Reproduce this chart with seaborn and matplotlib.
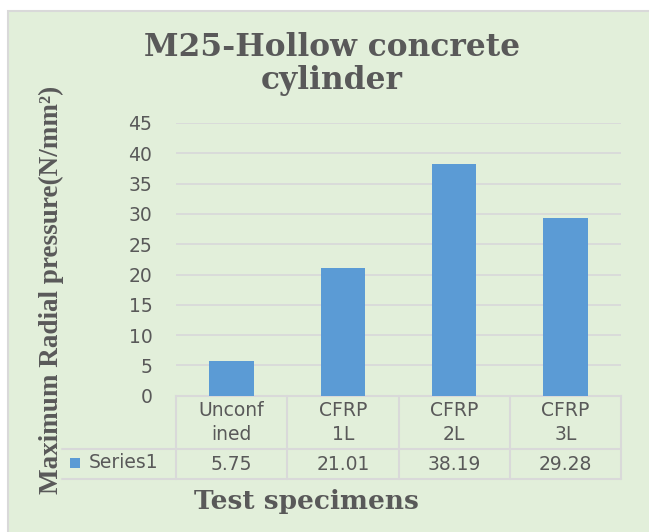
import matplotlib
matplotlib.use("Agg")
import matplotlib.pyplot as plt
import matplotlib.patches as mpatches
import matplotlib.transforms as mtransforms
import seaborn as sns

# === Chart data ===
categories = ["Unconf\nined", "CFRP\n1L", "CFRP\n2L", "CFRP\n3L"]
values = [5.75, 21.01, 38.19, 29.28]
series_name = "Series1"
y_ticks = [0, 5, 10, 15, 20, 25, 30, 35, 40, 45]

title = "M25-Hollow concrete\ncylinder"
x_label = "Test specimens"
y_label = "Maximum Radial pressure(N/mm²)"

bar_color = "#5B9BD5"
bg_color = "#E2EFDA"
line_color = "#D9D9D9"
text_color = "#595959"

W, H = 649, 532
sns.set_style("white")
plt.rcParams["font.family"] = ["DejaVu Sans"]

fig = plt.figure(figsize=(W / 100, H / 100), dpi=100)
fig.patch.set_facecolor("white")

# chart area frame
frame = mpatches.Rectangle((8 / W, -0.05), 1.1, 1 - 11 / H + 0.05,
                           transform=fig.transFigure, facecolor=bg_color,
                           edgecolor=line_color, linewidth=1.5, zorder=-10)
fig.patches.append(frame)

left, right, top, bottom = 176, 621, 123, 395.7
ax = fig.add_axes([left / W, 1 - bottom / H, (right - left) / W, (bottom - top) / H])
ax.set_facecolor("none")
ax.set_zorder(1)

sns.barplot(x=categories, y=values, color=bar_color, width=0.4,
            saturation=1, edgecolor="none", linewidth=0, ax=ax, zorder=3)

ax.set_ylim(0, 45)
ax.set_xlim(-0.5, len(categories) - 0.5)
ax.set_yticks(y_ticks)
ax.set_yticklabels([str(t) for t in y_ticks], fontsize=13.5, color=text_color)
ax.tick_params(axis="y", length=0, pad=17)
ax.set_xticks([])
ax.set_xlabel("")
ax.set_ylabel("")
ax.yaxis.grid(True, color=line_color, linewidth=1.3, zorder=0)
ax.set_axisbelow(True)
for side in ["top", "right", "left"]:
    ax.spines[side].set_visible(False)
ax.spines["bottom"].set_color(line_color)
ax.spines["bottom"].set_linewidth(1.5)

# === Data table under the plot ===
trans = mtransforms.blended_transform_factory(ax.transData, ax.transAxes)
ax_h = bottom - top
y_div = -(449 - bottom) / ax_h
y_bot = -(479 - bottom) / ax_h
x_left_px = 62
x_left = -0.5 + (x_left_px - left) / ((right - left) / len(categories))

for i in range(len(categories) + 1):
    ax.plot([i - 0.5, i - 0.5], [0, y_bot], transform=trans, color=line_color,
            lw=1.5, clip_on=False)
for yy in [y_div, y_bot]:
    ax.plot([x_left, len(categories) - 0.5], [yy, yy], transform=trans,
            color=line_color, lw=1.5, clip_on=False)

y_head = y_div / 2
y_row = (y_div + y_bot) / 2
for i, (cat, val) in enumerate(zip(categories, values)):
    ax.text(i, y_head, cat, transform=trans, ha="center", va="center",
            fontsize=13.5, color=text_color, linespacing=1.3)
    ax.text(i, y_row, f"{val:.2f}", transform=trans, ha="center", va="center",
            fontsize=13.5, color=text_color)

# legend key in the table
key_y = 1 - (463 + 5) / H
fig.patches.append(mpatches.Rectangle((70 / W, key_y), 10 / W, 10 / H,
                                      transform=fig.transFigure,
                                      facecolor=bar_color, edgecolor="none"))
fig.text(89 / W, 1 - 463 / H, series_name, ha="left", va="center",
         fontsize=13.5, color=text_color)

# === Titles ===
fig.text(332 / W, 1 - 64 / H, title, ha="center", va="center",
         fontsize=22.5, fontweight="bold", family=["DejaVu Serif"],
         color=text_color, linespacing=1.12)
fig.text(306 / W, 1 - 501 / H, x_label, ha="center", va="center",
         fontsize=19, fontweight="bold", family=["DejaVu Serif"],
         color=text_color)
fig.text(51 / W, 1 - 290 / H, y_label, ha="center", va="center",
         rotation=90, fontsize=19.5, fontweight="bold",
         family=["Liberation Serif", "DejaVu Serif"], color=text_color)

fig.savefig("out.png", dpi=100)
